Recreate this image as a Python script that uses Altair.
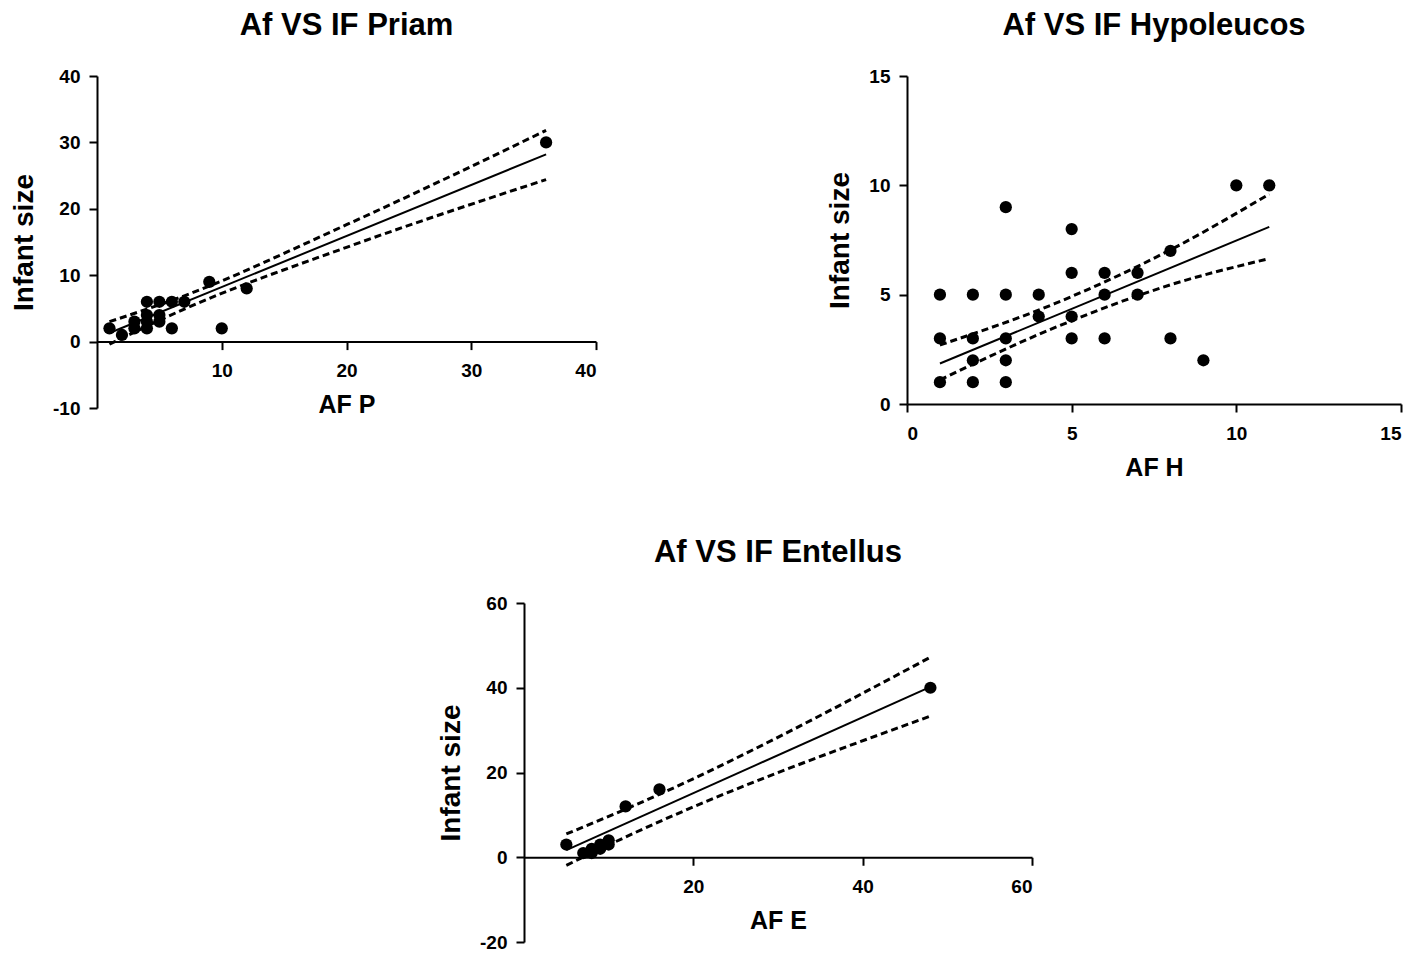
import altair as alt
import pandas as pd

# ---- data ----
# Priam
priam_x = [1, 2, 3, 3, 4, 4, 4, 4, 5, 5, 5, 6, 6, 7, 9, 10, 12, 36]
priam_y = [2, 1, 2, 3, 2, 3, 4, 6, 3, 4, 6, 2, 6, 6, 9, 2, 8, 30]
priam_fit_x = [1, 36]
priam_fit_y = [1.3, 28.2]
priam_band_x = [1, 7, 20, 36]
priam_hi = [3.0, 6.9, 17.6, 31.8]
priam_lo = [-0.4, 4.9, 14.2, 24.4]

# Hypoleucos
hypo_x = [1, 2, 3, 4, 3, 5, 5, 6, 7, 8, 6, 7, 5, 4, 1, 2, 3, 5, 6, 8, 2, 3, 9, 1, 2, 3, 10, 11]
hypo_y = [5, 5, 5, 5, 9, 8, 6, 6, 6, 7, 5, 5, 4, 4, 3, 3, 3, 3, 3, 3, 2, 2, 2, 1, 1, 1, 10, 10]
hypo_fit_x = [1, 11]
hypo_fit_y = [1.85, 8.1]
hypo_band_x = [1, 4.5, 8, 11]
hypo_hi = [2.7, 4.6, 7.05, 9.6]
hypo_lo = [1.1, 3.5, 5.45, 6.65]

# Entellus
ent_x = [5, 7, 8, 8, 9, 9, 10, 10, 12, 16, 48]
ent_y = [3, 1, 1, 2, 2, 3, 3, 4, 12, 16, 40]
ent_fit_x = [5, 48]
ent_fit_y = [1.7, 40.2]
ent_band_x = [5, 13, 48]
ent_hi = [5.5, 12.2, 47.2]
ent_lo = [-1.9, 5.7, 33.3]

FONT = "Liberation Sans"


def panel(title, xs, ys, fx, fy, bx, bhi, blo, xtitle, xdom, ydom, xticks, yticks, w, h):
    pts = pd.DataFrame({"x": xs, "y": ys})
    fit = pd.DataFrame({"x": fx, "y": fy})
    band_hi = pd.DataFrame({"x": bx, "y": bhi})
    band_lo = pd.DataFrame({"x": bx, "y": blo})
    y0_from_bottom = h * (0 - ydom[0]) / (ydom[1] - ydom[0])
    xscale = alt.Scale(domain=xdom, nice=False, zero=False)
    yscale = alt.Scale(domain=ydom, nice=False, zero=False)
    xaxis = alt.Axis(values=xticks, title=xtitle, offset=-y0_from_bottom,
                     labelExpr="'' + datum.value", labelPadding=12, titlePadding=12)
    yaxis = alt.Axis(values=yticks, title="Infant size",
                     labelExpr="'' + datum.value", labelPadding=9, titlePadding=14)

    def enc(ch):
        return ch.encode(x=alt.X("x:Q", scale=xscale, axis=xaxis),
                         y=alt.Y("y:Q", scale=yscale, axis=yaxis))

    line = enc(alt.Chart(fit).mark_line(color="black", strokeWidth=2))
    hi = enc(alt.Chart(band_hi).mark_line(color="black", strokeWidth=3,
                                          strokeDash=[7, 4], interpolate="monotone"))
    lo = enc(alt.Chart(band_lo).mark_line(color="black", strokeWidth=3,
                                          strokeDash=[7, 4], interpolate="monotone"))
    points = enc(alt.Chart(pts).mark_circle(size=150, color="black", opacity=1))
    return alt.layer(line, lo, hi, points).properties(
        width=w, height=h,
        title=alt.TitleParams(title, fontSize=31, font=FONT, fontWeight="bold",
                              anchor="middle", frame="group", offset=25, color="black"))


p1 = panel("Af VS IF Priam", priam_x, priam_y, priam_fit_x, priam_fit_y,
           priam_band_x, priam_hi, priam_lo, "AF P",
           [0, 40], [-10, 40], [10, 20, 30, 40], [-10, 0, 10, 20, 30, 40], 499, 332)
p2 = panel("Af VS IF Hypoleucos", hypo_x, hypo_y, hypo_fit_x, hypo_fit_y,
           hypo_band_x, hypo_hi, hypo_lo, "AF H",
           [0, 15], [0, 15], [0, 5, 10, 15], [0, 5, 10, 15], 494, 328)
p3 = panel("Af VS IF Entellus", ent_x, ent_y, ent_fit_x, ent_fit_y,
           ent_band_x, ent_hi, ent_lo, "AF E",
           [0, 60], [-20, 60], [20, 40, 60], [-20, 0, 20, 40, 60], 508, 339)

blank = alt.Chart(pd.DataFrame({"v": [0]})).mark_point(opacity=0).encode(
    x=alt.X("v:Q", axis=None), y=alt.Y("v:Q", axis=None)).properties(width=427, height=10)

top = alt.hconcat(p1, p2, spacing=311, bounds="flush")
bottom = alt.hconcat(blank, p3, spacing=0, bounds="flush")

chart = alt.vconcat(top, bottom, spacing=57).properties(
    padding={"left": 10, "top": 10, "right": 5, "bottom": 5},
    background="white",
).configure_view(stroke=None).configure_axis(
    grid=False,
    domainColor="black", domainWidth=2,
    tickColor="black", tickWidth=2, tickSize=8,
    labelFont=FONT, labelFontWeight="bold", labelFontSize=19, labelColor="black",
    titleFont=FONT, titleFontWeight="bold", titleFontSize=25, titleColor="black",
).configure_axisY(titleFontSize=28)

chart.save("out.html", embed_options={"renderer": "svg", "actions": False})
